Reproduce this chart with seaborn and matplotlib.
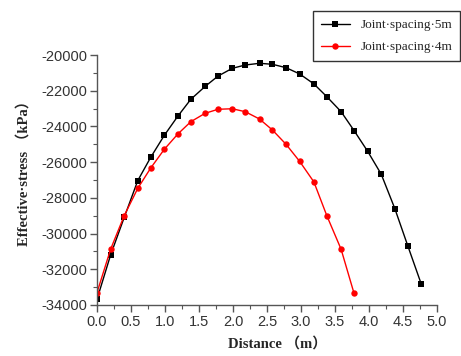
import matplotlib
matplotlib.use("Agg")
import matplotlib.pyplot as plt
import seaborn as sns
import pandas as pd
from matplotlib.ticker import MultipleLocator

sns.set_style("ticks")

x_5m = [0.0, 0.2, 0.4, 0.6, 0.79, 0.99, 1.19, 1.38, 1.59, 1.78, 1.99, 2.18, 2.39,
        2.58, 2.78, 2.98, 3.19, 3.38, 3.59, 3.78, 3.98, 4.18, 4.38, 4.57, 4.77]
y_5m = [-33680, -31200, -29100, -27030, -25730, -24500, -23420, -22480, -21760,
        -21180, -20745, -20560, -20465, -20520, -20710, -21060, -21620, -22335,
        -23175, -24230, -25390, -26675, -28600, -30680, -32840]
x_4m = [0.0, 0.2, 0.4, 0.6, 0.79, 0.99, 1.19, 1.38, 1.59, 1.78, 1.99, 2.18, 2.39,
        2.58, 2.78, 2.98, 3.19, 3.38, 3.59, 3.78]
y_4m = [-33310, -30880, -29000, -27465, -26330, -25280, -24420, -23735, -23265,
        -23040, -23010, -23175, -23585, -24200, -25000, -25955, -27110, -29000,
        -30880, -33345]

label_5m = "Joint·spacing·5m"
label_4m = "Joint·spacing·4m"
x_ticks = [0.0, 0.5, 1.0, 1.5, 2.0, 2.5, 3.0, 3.5, 4.0, 4.5, 5.0]
y_ticks = [-34000, -32000, -30000, -28000, -26000, -24000, -22000, -20000]

df5 = pd.DataFrame({"x": x_5m, "y": y_5m})
df4 = pd.DataFrame({"x": x_4m, "y": y_4m})

fig = plt.figure(figsize=(4.61, 3.56), dpi=100)
ax = fig.add_axes([0.2104, 0.1433, 0.7375, 0.7022])

sns.lineplot(data=df5, x="x", y="y", ax=ax, color="black", lw=1.0, marker="s",
             markersize=4.2, markeredgewidth=0, label=label_5m, sort=False)
sns.lineplot(data=df4, x="x", y="y", ax=ax, color="#ff0000", lw=1.0, marker="o",
             markersize=4.6, markeredgewidth=0, label=label_4m, sort=False)

ax.set_xlim(0, 5)
ax.set_ylim(-34000, -20000)
ax.set_xticks(x_ticks)
ax.set_yticks(y_ticks)
ax.set_xticklabels([f"{v:.1f}" for v in x_ticks])
ax.set_yticklabels([str(v) for v in y_ticks])
ax.xaxis.set_minor_locator(MultipleLocator(0.25))
ax.yaxis.set_minor_locator(MultipleLocator(1000))
for s in ["top", "right"]:
    ax.spines[s].set_visible(False)
for s in ["left", "bottom"]:
    ax.spines[s].set_color("#555555")
    ax.spines[s].set_linewidth(1.0)
ax.tick_params(which="major", direction="out", length=5, width=1.0,
               color="#555555", labelsize=10.5, labelcolor="#333333", pad=2)
ax.tick_params(which="minor", direction="out", length=3, width=0.8, color="#555555")
for t in ax.get_xticklabels() + ax.get_yticklabels():
    t.set_family(["Liberation Sans", "DejaVu Sans"])

ax.set_xlabel("Distance （m）", family=["Liberation Serif", "Noto Sans CJK SC"],
              fontweight="bold", fontsize=10.5)
ax.xaxis.set_label_coords(0.53, -0.125)
ax.set_ylabel("Effective·stress （kPa）", family=["Liberation Serif", "Noto Sans CJK SC"],
              fontweight="bold", fontsize=10.5)
ax.yaxis.set_label_coords(-0.195, 0.54)

leg = ax.legend(loc="upper left", bbox_to_anchor=(313 / 461, 1 - 11 / 356),
                bbox_transform=fig.transFigure, frameon=True, fancybox=False,
                prop={"family": "Liberation Serif", "size": 9.5},
                handlelength=2.2, borderpad=0.6, labelspacing=0.75, borderaxespad=0)
leg.get_frame().set_edgecolor("black")
leg.get_frame().set_linewidth(1.0)

fig.savefig("out.png", dpi=100)
